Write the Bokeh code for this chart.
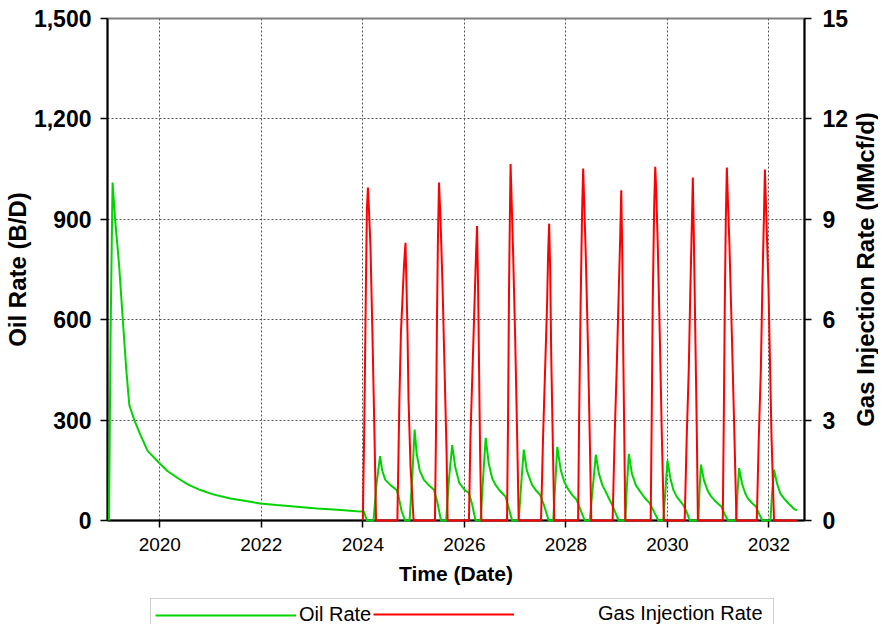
from bokeh.plotting import figure
from bokeh.layouts import column, row
from bokeh.models import (Range1d, LinearAxis, FixedTicker, NumeralTickFormatter,
                          PrintfTickFormatter, Legend, LegendItem, Label)
from bokeh.embed import file_html
from bokeh.resources import INLINE

# ---------------- data (decimal years) ----------------
oil_year = [2019.00, 2019.03, 2019.06, 2019.07, 2019.12, 2019.20, 2019.27, 2019.34, 2019.40,
            2019.50, 2019.62, 2019.76, 2019.99, 2020.15, 2020.35, 2020.55, 2020.80, 2021.05,
            2021.39, 2021.70, 2021.98, 2022.30, 2022.70, 2023.10, 2023.50, 2023.88, 2024.02,
            2024.08, 2024.21, 2024.27, 2024.34, 2024.38, 2024.44, 2024.55, 2024.66, 2024.70, 2024.76, 2024.83,
            2024.92, 2024.97, 2025.02, 2025.06, 2025.12, 2025.20, 2025.30, 2025.40, 2025.46, 2025.54,
            2025.64, 2025.70, 2025.76, 2025.82, 2025.90, 2026.00, 2026.09, 2026.15, 2026.22,
            2026.32, 2026.37, 2026.42, 2026.48, 2026.55, 2026.61, 2026.72, 2026.81, 2026.87, 2026.94,
            2027.07, 2027.12, 2027.17, 2027.23, 2027.33, 2027.42, 2027.49, 2027.57, 2027.66,
            2027.75, 2027.79, 2027.83, 2027.90, 2027.97, 2028.05, 2028.13, 2028.21, 2028.28, 2028.37,
            2028.47, 2028.53, 2028.59, 2028.65, 2028.72, 2028.78, 2028.85, 2028.91, 2028.97, 2029.04,
            2029.17, 2029.20, 2029.24, 2029.30, 2029.38, 2029.46, 2029.55, 2029.65, 2029.73, 2029.82,
            2029.92, 2029.96, 2030.00, 2030.06, 2030.12, 2030.18, 2030.25, 2030.31, 2030.38, 2030.44,
            2030.61, 2030.63, 2030.66, 2030.72, 2030.79, 2030.86, 2030.96, 2031.06, 2031.12, 2031.19,
            2031.35, 2031.38, 2031.41, 2031.47, 2031.53, 2031.58, 2031.66, 2031.74, 2031.80, 2031.87,
            2032.03, 2032.06, 2032.10, 2032.16, 2032.22, 2032.29, 2032.39, 2032.49, 2032.55]
oil_rate = [0, 550, 900, 1010, 900, 760, 603, 450, 345,
            299, 255, 208, 172, 148, 127, 108, 91, 78,
            66, 58, 51, 46, 41, 36, 32, 28, 27,
            0, 0, 110, 192, 150, 122, 105, 92, 75, 30, 0,
            0, 120, 272, 200, 150, 122, 105, 92, 60, 0,
            0, 130, 225, 160, 112, 92, 82, 50, 0,
            0, 130, 247, 170, 125, 107, 85, 72, 40, 0,
            0, 110, 212, 150, 107, 88, 77, 45, 0,
            0, 110, 220, 150, 115, 92, 75, 62, 35, 0,
            0, 100, 197, 140, 105, 87, 65, 47, 25, 0,
            0, 100, 199, 140, 105, 87, 68, 52, 28, 0,
            0, 90, 179, 125, 90, 72, 58, 47, 25, 0,
            0, 85, 167, 120, 90, 72, 55, 42, 22, 0,
            0, 80, 157, 110, 82, 67, 53, 42, 22, 0,
            0, 80, 152, 110, 82, 67, 50, 35, 30]

gas_year = [2024.00, 2024.03, 2024.06, 2024.08, 2024.10, 2024.12, 2024.15, 2024.19, 2024.23, 2024.26,
            2024.68, 2024.72, 2024.75, 2024.78, 2024.81, 2024.84, 2024.86, 2024.88, 2024.90, 2024.94, 2025.00,
            2025.42, 2025.44, 2025.46, 2025.48, 2025.50, 2025.53, 2025.57, 2025.61, 2025.65, 2025.67,
            2026.09, 2026.12, 2026.16, 2026.20, 2026.23, 2026.25, 2026.27, 2026.29, 2026.31, 2026.335,
            2026.84, 2026.86, 2026.88, 2026.90, 2026.91, 2026.93, 2026.96, 2027.00, 2027.04, 2027.07,
            2027.51, 2027.55, 2027.59, 2027.63, 2027.65, 2027.67, 2027.69, 2027.71, 2027.74, 2027.77,
            2028.24, 2028.26, 2028.29, 2028.32, 2028.34, 2028.36, 2028.39, 2028.43, 2028.47, 2028.50,
            2028.92, 2028.96, 2029.00, 2029.04, 2029.07, 2029.09, 2029.11, 2029.13, 2029.15, 2029.17,
            2029.67, 2029.69, 2029.71, 2029.74, 2029.76, 2029.78, 2029.81, 2029.85, 2029.89, 2029.93,
            2030.34, 2030.38, 2030.42, 2030.45, 2030.48, 2030.50, 2030.52, 2030.55, 2030.58, 2030.60,
            2031.09, 2031.11, 2031.13, 2031.15, 2031.17, 2031.19, 2031.22, 2031.27, 2031.32, 2031.36,
            2031.76, 2031.80, 2031.84, 2031.87, 2031.90, 2031.92, 2031.95, 2031.99, 2032.05, 2032.10,
            2032.55]
gas_rate = [0, 3.0, 7.0, 9.3, 9.95, 9.3, 8.2, 5.5, 2.5, 0,
            0, 3.6, 5.6, 6.6, 7.6, 8.3, 7.0, 5.6, 3.6, 1.6, 0,
            0, 2.5, 6.0, 8.5, 10.1, 9.0, 7.0, 4.5, 2.0, 0,
            0, 2.5, 4.5, 6.5, 8.0, 8.8, 7.0, 4.5, 2.0, 0,
            0, 3.0, 7.0, 9.5, 10.65, 9.6, 8.0, 5.5, 2.5, 0,
            0, 2.5, 4.5, 6.5, 8.0, 8.87, 7.5, 5.0, 2.5, 0,
            0, 3.0, 6.5, 9.3, 10.52, 9.5, 8.0, 5.5, 2.5, 0,
            0, 2.5, 4.5, 6.8, 8.5, 9.87, 8.0, 5.0, 2.5, 0,
            0, 3.0, 6.5, 9.5, 10.57, 9.8, 8.2, 5.5, 2.5, 0,
            0, 2.5, 4.5, 6.8, 8.8, 10.25, 8.5, 5.5, 2.5, 0,
            0, 3.0, 6.5, 9.0, 10.55, 9.6, 8.3, 5.5, 2.5, 0,
            0, 2.5, 4.5, 7.0, 9.0, 10.49, 9.0, 7.0, 2.5, 0,
            0]

x_ticks = [2020, 2022, 2024, 2026, 2028, 2030, 2032]
oil_ticks = [0, 300, 600, 900, 1200, 1500]
gas_ticks = [0, 3, 6, 9, 12, 15]

FONT = "Liberation Sans"
GREEN = "#00d400"
RED = "#ff0000"

# ---------------- main chart ----------------
p = figure(width=852, height=596, output_backend="svg", toolbar_location=None,
           x_range=Range1d(2018.97, 2032.70), y_range=Range1d(0, 1500),
           min_border_left=102, min_border_right=48, min_border_top=18, min_border_bottom=76)
p.extra_y_ranges = {"gas": Range1d(0, 15)}
p.background_fill_color = "white"
p.border_fill_color = "white"
p.outline_line_color = "#808080"
p.outline_line_width = 2

p.xgrid.ticker = FixedTicker(ticks=x_ticks)
p.ygrid.ticker = FixedTicker(ticks=oil_ticks)
for g in (p.xgrid, p.ygrid):
    g.grid_line_color = "#555555"
    g.grid_line_dash = "2 2"
    g.grid_line_width = 1

xa = p.xaxis[0]
xa.ticker = FixedTicker(ticks=x_ticks)
xa.formatter = PrintfTickFormatter(format="%d")
xa.axis_label = "Time (Date)"
xa.axis_label_text_font = FONT
xa.axis_label_text_font_style = "bold"
xa.axis_label_text_font_size = "21px"
xa.axis_label_standoff = 8
xa.major_label_text_font = FONT
xa.major_label_text_font_size = "19px"
xa.major_label_standoff = 10

ya = p.yaxis[0]
ya.ticker = FixedTicker(ticks=oil_ticks)
ya.formatter = NumeralTickFormatter(format="0,0")
ya.axis_label = "Oil Rate (B/D)"
ya.axis_label_text_font = FONT
ya.axis_label_text_font_style = "bold"
ya.axis_label_text_font_size = "24px"
ya.axis_label_standoff = 0
ya.major_label_text_font = FONT
ya.major_label_text_font_style = "bold"
ya.major_label_text_font_size = "23px"
ya.major_label_standoff = 9

ra = LinearAxis(y_range_name="gas", ticker=FixedTicker(ticks=gas_ticks))
ra.major_label_text_font = FONT
ra.major_label_text_font_style = "bold"
ra.major_label_text_font_size = "23px"
ra.major_label_standoff = 11
p.add_layout(ra, "right")

for ax in (xa, ya, ra):
    ax.axis_line_color = "black"
    ax.axis_line_width = 2
    ax.major_tick_line_color = "black"
    ax.major_tick_line_width = 1.5
    ax.major_tick_out = 7
    ax.major_tick_in = 0
    ax.minor_tick_line_color = None
    ax.major_label_text_color = "black"
    ax.axis_label_text_color = "black"

p.line(oil_year, oil_rate, line_color=GREEN, line_width=2, level="overlay")
p.line(gas_year, gas_rate, line_color=RED, line_width=2, y_range_name="gas", level="overlay")

# ---------------- right-hand axis title strip ----------------
tf = figure(width=26, height=596, output_backend="svg", toolbar_location=None,
            x_range=Range1d(0, 1), y_range=Range1d(0, 1), x_axis_type=None, y_axis_type=None,
            min_border_left=0, min_border_right=0, min_border_top=18, min_border_bottom=76)
tf.outline_line_color = None
tf.background_fill_color = "white"
tf.border_fill_color = "white"
tf.add_layout(Label(x=0.5, y=0.5, text="Gas Injection Rate (MMcf/d)", angle=90, angle_units="deg",
                    text_align="center", text_baseline="middle", text_font=FONT,
                    text_font_style="bold", text_font_size="24px", text_color="black"))

# ---------------- legend strip below the chart ----------------
lg = figure(width=852, height=28, output_backend="svg", toolbar_location=None,
            x_range=Range1d(0, 1), y_range=Range1d(0, 1),
            x_axis_type=None, y_axis_type=None, min_border=0)
lg.outline_line_color = None
lg.background_fill_color = "white"
lg.border_fill_color = "white"
# the same series, out of this strip's view: only their legend glyphs show
k_oil = lg.line(oil_year, oil_rate, line_color=GREEN, line_width=2)
k_gas = lg.line(gas_year, gas_rate, line_color=RED, line_width=2)

common = dict(orientation="horizontal", glyph_width=141, glyph_height=20, label_height=20,
              padding=4, margin=0, spacing=0,
              label_text_font=FONT, label_text_font_size="20px", label_text_color="black")
leg_a = Legend(items=[LegendItem(label="Oil Rate", renderers=[k_oil])],
               location=(43, -7), label_standoff=3, label_width=470,
               border_line_color="#a0a0a0", border_line_width=1.5,
               background_fill_color="white", background_fill_alpha=1.0, **common)
leg_b = Legend(items=[LegendItem(label="Gas Injection Rate", renderers=[k_gas])],
               location=(266, -1), label_standoff=84,
               border_line_color=None, background_fill_alpha=0.0, **common)
lg.add_layout(leg_a, "center")
lg.add_layout(leg_b, "center")

layout = row(column(p, lg, spacing=0), tf, spacing=0)
open("out.html", "w").write(file_html(layout, INLINE))
